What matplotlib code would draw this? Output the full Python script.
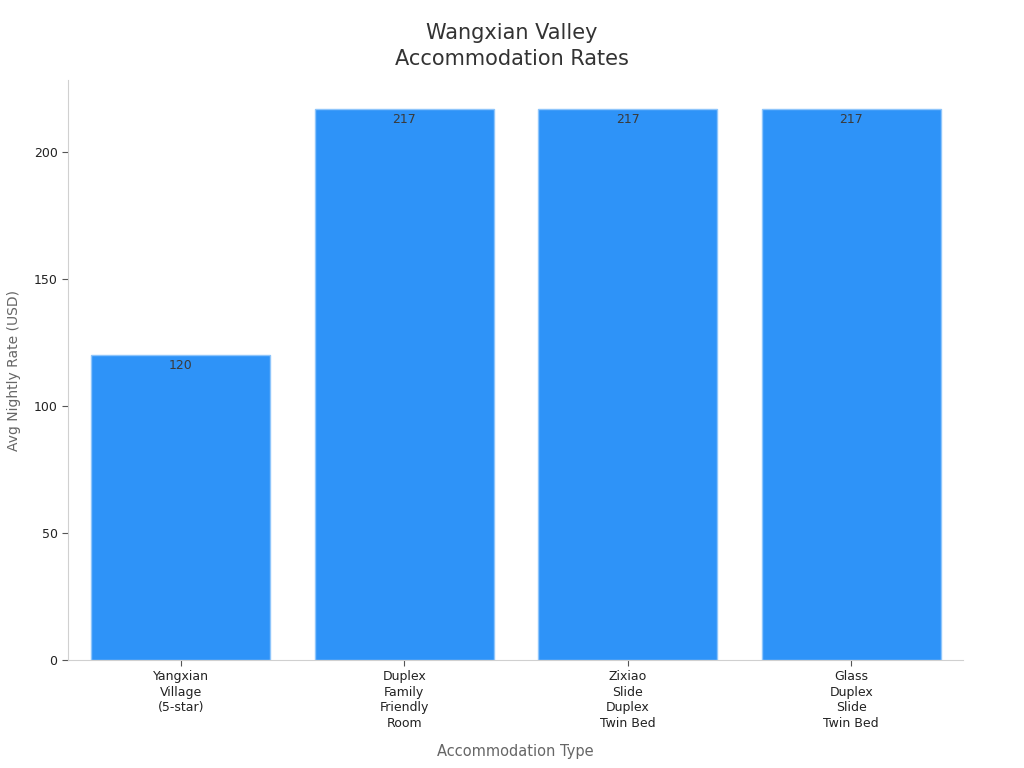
import matplotlib
matplotlib.use("Agg")
import matplotlib.pyplot as plt

# Chart data
categories = ["Yangxian\nVillage\n(5-star)", "Duplex\nFamily\nFriendly\nRoom",
              "Zixiao\nSlide\nDuplex\nTwin Bed", "Glass\nDuplex\nSlide\nTwin Bed"]
rates = [120, 217, 217, 217]
y_ticks = [0, 50, 100, 150, 200]

BAR_COLOR = "#2E93F8"
EDGE_COLOR = "#8EC5FB"

fig = plt.figure(figsize=(10.24, 7.68), dpi=100)
ax = fig.add_axes([0.0664, 0.1406, 0.874, 0.7552])

x = range(len(categories))
bars = ax.bar(x, rates, width=0.8, color=BAR_COLOR, edgecolor=EDGE_COLOR, linewidth=1)

# Value labels just inside the top of each bar
for rect, val in zip(bars, rates):
    ax.annotate(f"{val}", (rect.get_x() + rect.get_width() / 2, rect.get_height()),
                xytext=(0, -3), textcoords="offset points", ha="center", va="top",
                fontsize=9, color="#3A3A3A")

ax.set_xlim(-0.505, 3.5)
ax.set_ylim(0, max(rates) * 1.052)
ax.set_yticks(y_ticks)
ax.set_xticks(list(x))
ax.set_xticklabels(categories, fontsize=9, color="#222222", linespacing=1.25)
ax.tick_params(axis="y", labelsize=9, colors="#222222", length=4, color="#555555")
ax.tick_params(axis="x", length=4, color="#555555")

for side in ("top", "right"):
    ax.spines[side].set_visible(False)
for side in ("left", "bottom"):
    ax.spines[side].set_color("#D0D0D0")

ax.set_xlabel("Accommodation Type", fontsize=10.5, color="#666666", labelpad=10)
ax.set_ylabel("Avg Nightly Rate (USD)", fontsize=10, color="#666666", labelpad=9)
fig.suptitle("Wangxian Valley\nAccommodation Rates", fontsize=15, color="#333333",
             y=0.970, linespacing=1.4)

plt.savefig("out.png", dpi=100)
plt.close()
